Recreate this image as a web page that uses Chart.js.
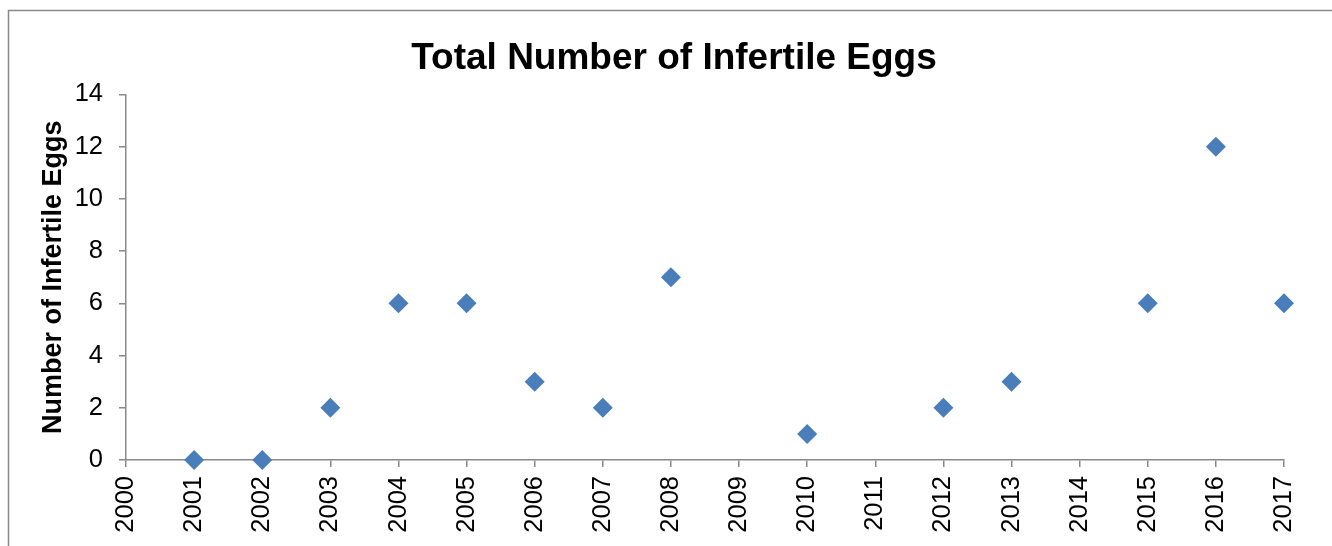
<!DOCTYPE html>
<html>
<head>
<meta charset="utf-8">
<script src="https://cdn.jsdelivr.net/npm/chart.js@4/dist/chart.umd.min.js"></script>
<style>
  html, body { margin: 0; padding: 0; background: #fff; }
  #wrap { width: 1332px; height: 546px; position: relative; }
</style>
</head>
<body>
<div id="wrap"><canvas id="c" width="1332" height="546"></canvas></div>
<script>
const chartTitle = 'Total Number of Infertile Eggs';
const yAxisTitle = 'Number of Infertile Eggs';
const years = [2001, 2002, 2003, 2004, 2005, 2006, 2007, 2008, 2010, 2012, 2013, 2015, 2016, 2017];
const infertileEggs = [0, 0, 2, 6, 6, 3, 2, 7, 1, 2, 3, 6, 12, 6];
const xTickRange = [2000, 2017];
const yTickRange = [0, 14];
const yTickStep = 2;

const FONT = "'Liberation Sans', Arial, Helvetica, sans-serif";
const AXIS = '#898989';

const frame = {
  id: 'frame',
  beforeDraw(chart) {
    const ctx = chart.ctx;
    ctx.save();
    ctx.fillStyle = '#fff';
    ctx.fillRect(0, 0, chart.width, chart.height);
    ctx.strokeStyle = AXIS;
    ctx.lineWidth = 1.5;
    ctx.beginPath();
    ctx.moveTo(8.5, chart.height);
    ctx.lineTo(8.5, 10.5);
    ctx.lineTo(chart.width, 10.5);
    ctx.stroke();
    ctx.restore();
  }
};

new Chart(document.getElementById('c'), {
  type: 'scatter',
  data: {
    datasets: [{
      label: yAxisTitle,
      data: years.map((y, i) => ({ x: y, y: infertileEggs[i] })),
      pointStyle: 'rectRot',
      pointRadius: 10,
      pointHoverRadius: 10,
      backgroundColor: '#4A7EBB',
      borderColor: '#4A7EBB',
      borderWidth: 0,
      clip: false
    }]
  },
  options: {
    responsive: false,
    animation: false,
    events: [],
    layout: { padding: { left: 16, right: 0, top: 0, bottom: 0 } },
    plugins: {
      legend: { display: false },
      tooltip: { enabled: false },
      title: {
        display: true,
        text: chartTitle,
        color: '#000',
        font: { family: FONT, size: 37, weight: 'bold' },
        padding: { top: 37, bottom: 13 }
      }
    },
    scales: {
      x: {
        type: 'linear',
        min: xTickRange[0],
        max: xTickRange[1],
        grid: { display: true, drawOnChartArea: false, drawTicks: true, tickLength: 7, color: AXIS, lineWidth: 1.5 },
        border: { display: true, color: AXIS, width: 1.5 },
        ticks: {
          stepSize: 1,
          autoSkip: false,
          minRotation: 90,
          maxRotation: 90,
          padding: 9,
          color: '#000',
          font: { family: FONT, size: 25.5 },
          callback: v => String(v)
        },
        afterFit(s) { s.height = 86; }
      },
      y: {
        type: 'linear',
        position: 'left',
        min: yTickRange[0],
        max: yTickRange[1],
        grid: { display: true, drawOnChartArea: false, drawTicks: true, tickLength: 7, color: AXIS, lineWidth: 1.5 },
        border: { display: true, color: AXIS, width: 1.5 },
        ticks: {
          stepSize: yTickStep,
          padding: 16,
          color: '#000',
          font: { family: FONT, size: 25.5 }
        },
        title: {
          display: true,
          text: yAxisTitle,
          color: '#000',
          font: { family: FONT, size: 27, weight: 'bold' },
          padding: { top: 21, bottom: 0 }
        },
        afterFit(s) { s.width = 110; }
      },
      spacer: {
        type: 'linear',
        position: 'right',
        display: true,
        grid: { display: false },
        border: { display: false },
        ticks: { display: false },
        afterFit(s) { s.width = 48; }
      }
    }
  },
  plugins: [frame]
});
</script>
</body>
</html>
